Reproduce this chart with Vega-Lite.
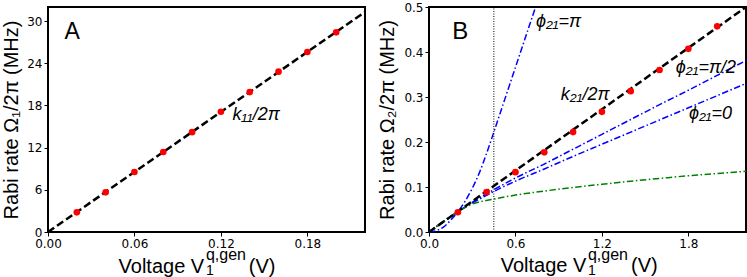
{
  "$schema": "https://vega.github.io/schema/vega-lite/v6.json",
  "padding": {"left": 0, "top": 0, "right": 0, "bottom": 0},
  "spacing": 64,
  "bounds": "flush",
  "config": {
    "view": {"stroke": "black", "strokeWidth": 2},
    "axis": {
      "domain": false, "grid": false, "labelFlush": false,
      "tickColor": "black", "tickSize": 4, "tickWidth": 1,
      "labelFont": "DejaVu Sans", "labelFontSize": 12, "labelColor": "black", "labelPadding": 2,
      "titleFont": "Liberation Sans", "titleFontSize": 20, "titleFontWeight": "normal", "titleColor": "black"
    },
    "text": {"font": "Liberation Sans", "color": "black"}
  },
  "datasets": {
    "lineA": [{"V": 0, "rate": 0}, {"V": 0.22, "rate": 31.3}],
    "pointsA": [
      {"V": 0.02, "rate": 2.8}, {"V": 0.04, "rate": 5.64}, {"V": 0.06, "rate": 8.53},
      {"V": 0.08, "rate": 11.37}, {"V": 0.10, "rate": 14.2}, {"V": 0.12, "rate": 17.1},
      {"V": 0.14, "rate": 19.9}, {"V": 0.16, "rate": 22.8}, {"V": 0.18, "rate": 25.6},
      {"V": 0.20, "rate": 28.4}
    ],
    "lineB": [{"V": 0, "rate": 0}, {"V": 2.2, "rate": 0.5}],
    "pointsB": [
      {"V": 0.2, "rate": 0.044}, {"V": 0.4, "rate": 0.089}, {"V": 0.6, "rate": 0.133},
      {"V": 0.8, "rate": 0.177}, {"V": 1.0, "rate": 0.222}, {"V": 1.2, "rate": 0.267},
      {"V": 1.4, "rate": 0.313}, {"V": 1.6, "rate": 0.36}, {"V": 1.8, "rate": 0.407},
      {"V": 2.0, "rate": 0.457}
    ],
    "curvesB": [
      {"series": "pi", "V": 0.0, "rate": 0.0},
      {"series": "pi", "V": 0.05, "rate": 0.003},
      {"series": "pi", "V": 0.1, "rate": 0.011},
      {"series": "pi", "V": 0.15, "rate": 0.026},
      {"series": "pi", "V": 0.2, "rate": 0.045},
      {"series": "pi", "V": 0.25, "rate": 0.068},
      {"series": "pi", "V": 0.3, "rate": 0.097},
      {"series": "pi", "V": 0.35, "rate": 0.132},
      {"series": "pi", "V": 0.4, "rate": 0.175},
      {"series": "pi", "V": 0.45, "rate": 0.222},
      {"series": "pi", "V": 0.5, "rate": 0.27},
      {"series": "pi", "V": 0.55, "rate": 0.318},
      {"series": "pi", "V": 0.6, "rate": 0.366},
      {"series": "pi", "V": 0.65, "rate": 0.414},
      {"series": "pi", "V": 0.7, "rate": 0.462},
      {"series": "pi", "V": 0.74, "rate": 0.5},
      {"series": "pi2", "V": 0.0, "rate": 0.0},
      {"series": "pi2", "V": 0.1, "rate": 0.023},
      {"series": "pi2", "V": 0.2, "rate": 0.045},
      {"series": "pi2", "V": 0.3, "rate": 0.066},
      {"series": "pi2", "V": 0.45, "rate": 0.094},
      {"series": "pi2", "V": 0.6, "rate": 0.12},
      {"series": "pi2", "V": 0.8, "rate": 0.151},
      {"series": "pi2", "V": 1.0, "rate": 0.184},
      {"series": "pi2", "V": 1.2, "rate": 0.217},
      {"series": "pi2", "V": 1.4, "rate": 0.25},
      {"series": "pi2", "V": 1.6, "rate": 0.283},
      {"series": "pi2", "V": 1.8, "rate": 0.315},
      {"series": "pi2", "V": 2.0, "rate": 0.348},
      {"series": "pi2", "V": 2.2, "rate": 0.381},
      {"series": "zero", "V": 0.0, "rate": 0.0},
      {"series": "zero", "V": 0.1, "rate": 0.023},
      {"series": "zero", "V": 0.2, "rate": 0.045},
      {"series": "zero", "V": 0.3, "rate": 0.064},
      {"series": "zero", "V": 0.45, "rate": 0.09},
      {"series": "zero", "V": 0.6, "rate": 0.113},
      {"series": "zero", "V": 0.8, "rate": 0.14},
      {"series": "zero", "V": 1.0, "rate": 0.168},
      {"series": "zero", "V": 1.2, "rate": 0.195},
      {"series": "zero", "V": 1.4, "rate": 0.222},
      {"series": "zero", "V": 1.6, "rate": 0.249},
      {"series": "zero", "V": 1.8, "rate": 0.276},
      {"series": "zero", "V": 2.0, "rate": 0.303},
      {"series": "zero", "V": 2.2, "rate": 0.33},
      {"series": "green", "V": 0.0, "rate": 0.0},
      {"series": "green", "V": 0.1, "rate": 0.023},
      {"series": "green", "V": 0.2, "rate": 0.045},
      {"series": "green", "V": 0.3, "rate": 0.062},
      {"series": "green", "V": 0.45, "rate": 0.073},
      {"series": "green", "V": 0.6, "rate": 0.082},
      {"series": "green", "V": 0.8, "rate": 0.091},
      {"series": "green", "V": 1.0, "rate": 0.099},
      {"series": "green", "V": 1.2, "rate": 0.106},
      {"series": "green", "V": 1.4, "rate": 0.113},
      {"series": "green", "V": 1.6, "rate": 0.119},
      {"series": "green", "V": 1.8, "rate": 0.125},
      {"series": "green", "V": 2.0, "rate": 0.13},
      {"series": "green", "V": 2.2, "rate": 0.135}
    ]
  },
  "hconcat": [
    {
      "width": 317,
      "height": 225,
      "layer": [
        {
          "data": {"name": "lineA"},
          "mark": {"type": "line", "color": "black", "strokeWidth": 2.5, "strokeDash": [7.5, 3.5]},
          "encoding": {
            "x": {"field": "V", "type": "quantitative", "title": null, "scale": {"domain": [0, 0.22], "nice": false, "zero": false},
                  "axis": {"values": [0, 0.06, 0.12, 0.18], "format": ".2f"}},
            "y": {"field": "rate", "type": "quantitative", "title": "Rabi rate Ω₁/2π (MHz)", "scale": {"domain": [0, 32], "nice": false},
                  "axis": {"values": [0, 6, 12, 18, 24, 30], "format": "d", "titlePadding": 5}}
          }
        },
        {
          "data": {"name": "pointsA"},
          "mark": {"type": "circle", "color": "#ff0000", "size": 44, "opacity": 1},
          "encoding": {
            "x": {"field": "V", "type": "quantitative", "title": null},
            "y": {"field": "rate", "type": "quantitative", "title": "Rabi rate Ω₁/2π (MHz)"}
          }
        },
        {
          "data": {"values": [{}]},
          "mark": {"type": "text", "fontSize": 23, "align": "left", "baseline": "alphabetic"},
          "encoding": {
            "x": {"datum": 0.0115, "type": "quantitative", "title": null},
            "y": {"datum": 27.4, "type": "quantitative", "title": "Rabi rate Ω₁/2π (MHz)"},
            "text": {"value": "A"}
          }
        },
        {
          "data": {"values": [{}]},
          "mark": {"type": "text", "fontSize": 18, "fontStyle": "italic", "align": "left", "baseline": "alphabetic"},
          "encoding": {
            "x": {"datum": 0.128, "type": "quantitative", "title": null},
            "y": {"datum": 16.0, "type": "quantitative", "title": "Rabi rate Ω₁/2π (MHz)"},
            "text": {"value": "k₁₁/2π"}
          }
        },
        {
          "data": {"values": [{}]},
          "mark": {"type": "text", "fontSize": 20, "align": "right", "baseline": "alphabetic"},
          "encoding": {
            "x": {"datum": 0.1084, "type": "quantitative", "title": null},
            "y": {"datum": -5.79, "type": "quantitative", "title": "Rabi rate Ω₁/2π (MHz)"},
            "text": {"value": "Voltage V"}
          }
        },
        {
          "data": {"values": [{}]},
          "mark": {"type": "text", "fontSize": 16, "align": "left", "baseline": "alphabetic"},
          "encoding": {
            "x": {"datum": 0.1096, "type": "quantitative", "title": null},
            "y": {"datum": -3.99, "type": "quantitative", "title": "Rabi rate Ω₁/2π (MHz)"},
            "text": {"value": "q,gen"}
          }
        },
        {
          "data": {"values": [{}]},
          "mark": {"type": "text", "fontSize": 14, "align": "left", "baseline": "alphabetic"},
          "encoding": {
            "x": {"datum": 0.1096, "type": "quantitative", "title": null},
            "y": {"datum": -6.12, "type": "quantitative", "title": "Rabi rate Ω₁/2π (MHz)"},
            "text": {"value": "1"}
          }
        },
        {
          "data": {"values": [{}]},
          "mark": {"type": "text", "fontSize": 20, "align": "left", "baseline": "alphabetic"},
          "encoding": {
            "x": {"datum": 0.1393, "type": "quantitative", "title": null},
            "y": {"datum": -5.79, "type": "quantitative", "title": "Rabi rate Ω₁/2π (MHz)"},
            "text": {"value": "(V)"}
          }
        }
      ]
    },
    {
      "width": 317,
      "height": 225,
      "layer": [
        {
          "data": {"name": "curvesB"},
          "mark": {"type": "line", "strokeWidth": 1.5, "strokeDash": [6.5, 2.5, 1.5, 2.5], "interpolate": "monotone"},
          "encoding": {
            "x": {"field": "V", "type": "quantitative", "title": null, "scale": {"domain": [0, 2.2], "nice": false, "zero": false},
                  "axis": {"values": [0, 0.6, 1.2, 1.8], "format": ".1f"}},
            "y": {"field": "rate", "type": "quantitative", "title": "Rabi rate Ω₂/2π (MHz)", "scale": {"domain": [0, 0.5], "nice": false},
                  "axis": {"values": [0, 0.1, 0.2, 0.3, 0.4, 0.5], "format": ".1f", "titlePadding": 6}},
            "detail": {"field": "series", "type": "nominal"},
            "color": {"field": "series", "type": "nominal", "legend": null,
                      "scale": {"domain": ["pi", "pi2", "zero", "green"], "range": ["#0000ff", "#0000ff", "#0000ff", "#008000"]}}
          }
        },
        {
          "data": {"values": [{}]},
          "mark": {"type": "rule", "color": "black", "strokeWidth": 1, "strokeDash": [1, 1.5]},
          "encoding": {
            "x": {"datum": 0.45, "type": "quantitative", "title": null},
            "y": {"datum": 0, "type": "quantitative", "title": "Rabi rate Ω₂/2π (MHz)"},
            "y2": {"datum": 0.5}
          }
        },
        {
          "data": {"name": "lineB"},
          "mark": {"type": "line", "color": "black", "strokeWidth": 2.5, "strokeDash": [7.5, 3.5]},
          "encoding": {
            "x": {"field": "V", "type": "quantitative", "title": null},
            "y": {"field": "rate", "type": "quantitative", "title": "Rabi rate Ω₂/2π (MHz)"}
          }
        },
        {
          "data": {"name": "pointsB"},
          "mark": {"type": "circle", "color": "#ff0000", "size": 44, "opacity": 1},
          "encoding": {
            "x": {"field": "V", "type": "quantitative", "title": null},
            "y": {"field": "rate", "type": "quantitative", "title": "Rabi rate Ω₂/2π (MHz)"}
          }
        },
        {
          "data": {"values": [{}]},
          "mark": {"type": "text", "fontSize": 24, "align": "left", "baseline": "alphabetic"},
          "encoding": {
            "x": {"datum": 0.161, "type": "quantitative", "title": null},
            "y": {"datum": 0.4296, "type": "quantitative", "title": "Rabi rate Ω₂/2π (MHz)"},
            "text": {"value": "B"}
          }
        },
        {
          "data": {"values": [{}]},
          "mark": {"type": "text", "fontSize": 18, "fontStyle": "italic", "align": "left", "baseline": "alphabetic"},
          "encoding": {
            "x": {"datum": 0.742, "type": "quantitative", "title": null},
            "y": {"datum": 0.4556, "type": "quantitative", "title": "Rabi rate Ω₂/2π (MHz)"},
            "text": {"value": "ϕ₂₁=π"}
          }
        },
        {
          "data": {"values": [{}]},
          "mark": {"type": "text", "fontSize": 18, "fontStyle": "italic", "align": "left", "baseline": "alphabetic"},
          "encoding": {
            "x": {"datum": 1.713, "type": "quantitative", "title": null},
            "y": {"datum": 0.354, "type": "quantitative", "title": "Rabi rate Ω₂/2π (MHz)"},
            "text": {"value": "ϕ₂₁=π/2"}
          }
        },
        {
          "data": {"values": [{}]},
          "mark": {"type": "text", "fontSize": 18, "fontStyle": "italic", "align": "left", "baseline": "alphabetic"},
          "encoding": {
            "x": {"datum": 0.915, "type": "quantitative", "title": null},
            "y": {"datum": 0.294, "type": "quantitative", "title": "Rabi rate Ω₂/2π (MHz)"},
            "text": {"value": "k₂₁/2π"}
          }
        },
        {
          "data": {"values": [{}]},
          "mark": {"type": "text", "fontSize": 18, "fontStyle": "italic", "align": "left", "baseline": "alphabetic"},
          "encoding": {
            "x": {"datum": 1.804, "type": "quantitative", "title": null},
            "y": {"datum": 0.252, "type": "quantitative", "title": "Rabi rate Ω₂/2π (MHz)"},
            "text": {"value": "ϕ₂₁=0"}
          }
        },
        {
          "data": {"values": [{}]},
          "mark": {"type": "text", "fontSize": 20, "align": "right", "baseline": "alphabetic"},
          "encoding": {
            "x": {"datum": 1.092, "type": "quantitative", "title": null},
            "y": {"datum": -0.0896, "type": "quantitative", "title": "Rabi rate Ω₂/2π (MHz)"},
            "text": {"value": "Voltage V"}
          }
        },
        {
          "data": {"values": [{}]},
          "mark": {"type": "text", "fontSize": 16, "align": "left", "baseline": "alphabetic"},
          "encoding": {
            "x": {"datum": 1.103, "type": "quantitative", "title": null},
            "y": {"datum": -0.0623, "type": "quantitative", "title": "Rabi rate Ω₂/2π (MHz)"},
            "text": {"value": "q,gen"}
          }
        },
        {
          "data": {"values": [{}]},
          "mark": {"type": "text", "fontSize": 14, "align": "left", "baseline": "alphabetic"},
          "encoding": {
            "x": {"datum": 1.103, "type": "quantitative", "title": null},
            "y": {"datum": -0.0954, "type": "quantitative", "title": "Rabi rate Ω₂/2π (MHz)"},
            "text": {"value": "1"}
          }
        },
        {
          "data": {"values": [{}]},
          "mark": {"type": "text", "fontSize": 20, "align": "left", "baseline": "alphabetic"},
          "encoding": {
            "x": {"datum": 1.402, "type": "quantitative", "title": null},
            "y": {"datum": -0.0896, "type": "quantitative", "title": "Rabi rate Ω₂/2π (MHz)"},
            "text": {"value": "(V)"}
          }
        }
      ]
    }
  ]
}
